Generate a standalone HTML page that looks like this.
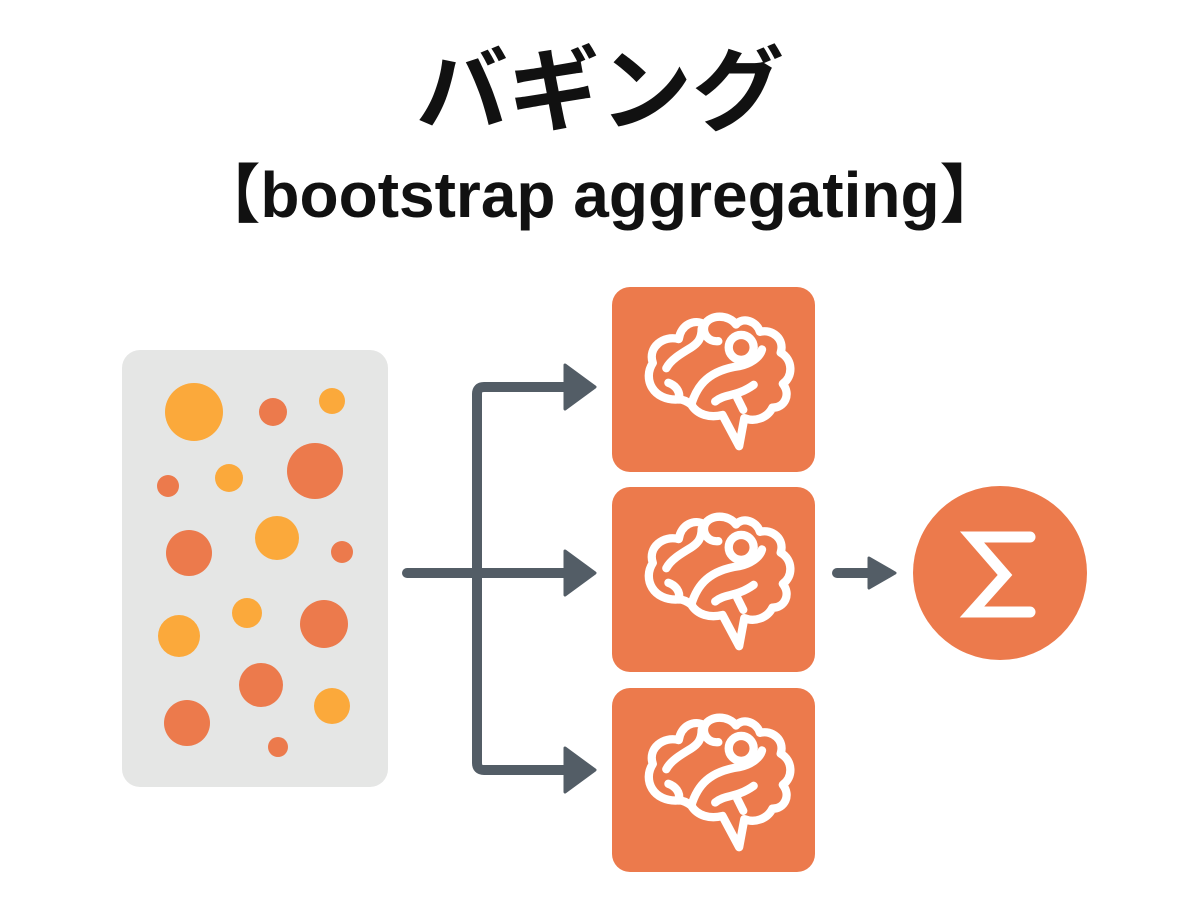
<!DOCTYPE html>
<html><head><meta charset="utf-8">
<style>
html,body{margin:0;padding:0;background:#fff;width:1200px;height:900px;overflow:hidden}
.t{position:absolute;left:0;width:1200px;text-align:center;font-family:"Liberation Sans","Noto Sans CJK JP",sans-serif;font-weight:bold;color:#111}
</style></head><body>
<div class="t" style="top:44px;font-size:92px;line-height:96px">バギング</div>
<div class="t" style="top:158px;font-size:64px;line-height:74px">【bootstrap aggregating】</div>
<svg width="1200" height="900" style="position:absolute;left:0;top:0">
<defs>
<g id="brain" fill="none" stroke="#fff" stroke-width="8" stroke-linecap="round" stroke-linejoin="round">
<path d="M70,110 C45,112 35,90 45,75 C40,60 55,48 70,52 C72,38 85,32 95,38 C100,28 118,28 125,38 C132,30 145,35 148,45 C160,42 172,52 168,65 C180,72 180,88 170,95 C178,105 172,118 160,118 C155,128 143,132 133,128 L128,155 L112,125 C100,128 88,125 82,115 C78,112 74,110 70,110 Z"/>
<circle cx="130" cy="60" r="12"/>
<path d="M58,80 C62,72 72,66 82,60 C88,56 92,52 92,42"/>
<path d="M95,38 C92,46 98,55 108,54"/>
<path d="M70,110 C72,102 66,96 60,94"/>
<path d="M82,115 C88,95 100,82 128,78 C138,76 148,70 150,62"/>
<path d="M105,112 C115,104 125,108 142,96"/>
<path d="M126,108 L132,120"/>
</g>
</defs>
<rect x="122" y="350" width="266" height="437" rx="18" fill="#E5E6E5"/>
<g fill="#FBA93B">
<circle cx="194" cy="412" r="29"/><circle cx="332" cy="401" r="13"/><circle cx="229" cy="478" r="14"/>
<circle cx="277" cy="538" r="22"/><circle cx="247" cy="613" r="15"/><circle cx="179" cy="636" r="21"/><circle cx="332" cy="706" r="18"/>
</g>
<g fill="#EC7A4C">
<circle cx="273" cy="412" r="14"/><circle cx="315" cy="471" r="28"/><circle cx="168" cy="486" r="11"/>
<circle cx="189" cy="553" r="23"/><circle cx="342" cy="552" r="11"/><circle cx="324" cy="624" r="24"/>
<circle cx="261" cy="685" r="22"/><circle cx="187" cy="723" r="23"/><circle cx="278" cy="747" r="10"/>
</g>
<g stroke="#535D66" stroke-width="10" fill="none" stroke-linecap="round" stroke-linejoin="round">
<path d="M407,573 L570,573"/>
<path d="M570,387 L484,387 Q477,387 477,394 L477,763 Q477,770 484,770 L570,770"/>
<path d="M837,573 L870,573"/>
</g>
<g fill="#535D66" stroke="#535D66" stroke-width="3" stroke-linejoin="round">
<polygon points="565,365 595,387 565,409"/>
<polygon points="565,551 595,573 565,595"/>
<polygon points="565,748 595,770 565,792"/>
<polygon points="869,558 895,573 869,588"/>
</g>
<g fill="#EC7A4C">
<rect x="612" y="287" width="203" height="185" rx="18"/>
<rect x="612" y="487" width="203" height="185" rx="18"/>
<rect x="612" y="688" width="203" height="184" rx="18"/>
<circle cx="1000" cy="573" r="87"/>
</g>
<use href="#brain" transform="translate(606,285) scale(1.04)"/>
<use href="#brain" transform="translate(606,485) scale(1.04)"/>
<use href="#brain" transform="translate(606,686) scale(1.04)"/>
<polyline points="1030,537 972,537 1005,575 972,612 1030,612" fill="none" stroke="#fff" stroke-width="11" stroke-linecap="round" stroke-linejoin="miter"/>
</svg>
</body></html>
